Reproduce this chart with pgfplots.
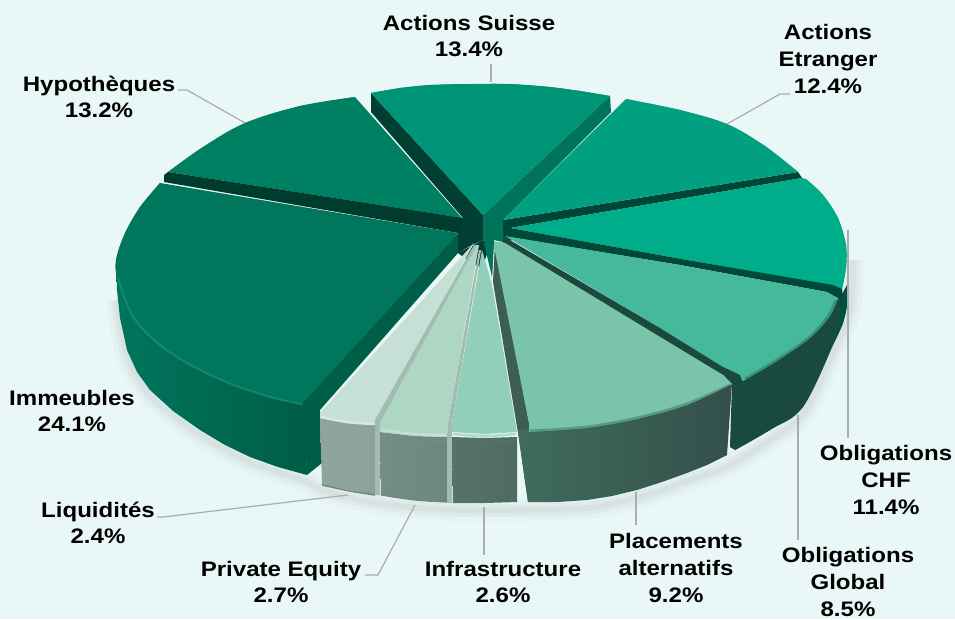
\documentclass[border=0pt]{standalone}
\usepackage{fontspec}
\setmainfont{Liberation Sans}
\usepackage{pgfplots}
\pgfplotsset{compat=1.18}
\definecolor{bg}{HTML}{E9F8F6}
\definecolor{lead}{HTML}{A9ADAD}
\definecolor{cSu}{HTML}{009477}
\definecolor{cSuR}{HTML}{00745B}
\definecolor{cSuL}{HTML}{003F31}
\definecolor{cEt}{HTML}{00A080}
\definecolor{cEtW}{HTML}{004536}
\definecolor{cCH}{HTML}{00AD8B}
\definecolor{cCHW}{HTML}{004838}
\definecolor{cCHO}{HTML}{00513F}
\definecolor{cGl}{HTML}{46B89C}
\definecolor{cGlW}{HTML}{1A493D}
\definecolor{cPl}{HTML}{7AC4AA}
\definecolor{cPlL}{HTML}{3D5E50}
\definecolor{cIn}{HTML}{91CFB8}
\definecolor{cPE}{HTML}{AED6C5}
\definecolor{cLi}{HTML}{C6E0D5}
\definecolor{cSt}{HTML}{A3BCB2}
\definecolor{cIm}{HTML}{00765C}
\definecolor{cImR}{HTML}{005D48}
\definecolor{cHy}{HTML}{008063}
\definecolor{cHyW}{HTML}{003C2E}
\definecolor{wPlA}{HTML}{3F6C5D}
\definecolor{wPlB}{HTML}{33504A}
\definecolor{wInA}{HTML}{557469}
\definecolor{wInB}{HTML}{4E6B60}
\definecolor{wPEA}{HTML}{738F83}
\definecolor{wPEB}{HTML}{6C887C}
\definecolor{wLiA}{HTML}{8EA59C}
\definecolor{wLiB}{HTML}{8BA299}
\tikzset{lab/.style={font=\fontsize{21}{26.7}\selectfont\bfseries,align=center,text=black,inner sep=0pt}}
\newcommand{\W}[1]{\scalebox{1.145}[1]{#1}}
\pgfplotsset{
 s/.style={smooth,tension=0.6,draw=none,mark=none},
 p/.style={draw=none,mark=none},
 leader/.style={draw=lead,line width=1.2pt,mark=none},
 bev/.style={smooth,tension=0.6,mark=none}
}
\begin{document}
\begin{tikzpicture}
\begin{axis}[scale only axis,width=955pt,height=619pt,xmin=0,xmax=955,ymin=0,ymax=619,y dir=reverse,axis lines=none,clip=true]
% background
\addplot[p,fill=bg] coordinates {(0,0)(955,0)(955,619)(0,619)};
% soft shadow
\addplot[smooth,draw=black!60,opacity=.035,line width=22pt,mark=none] coordinates {(117,300)(127,355)(150,395)(200,435)(250,462)(307,482)(322,490)(375,503)(450,510)(528,510)(587,508)(637,498)(687,481)(730,465)(770,440)(803,415)(832,355)(850,310)(853,260)};
\addplot[smooth,draw=black!60,opacity=.045,line width=13pt,mark=none] coordinates {(117,300)(127,355)(150,395)(200,435)(250,462)(307,482)(322,490)(375,503)(450,510)(528,510)(587,508)(637,498)(687,481)(730,465)(770,440)(803,415)(832,355)(850,310)(853,260)};
\addplot[smooth,draw=black!60,opacity=.06,line width=6pt,mark=none] coordinates {(117,300)(127,355)(150,395)(200,435)(250,462)(307,482)(322,490)(375,503)(450,510)(528,510)(587,508)(637,498)(687,481)(730,465)(770,440)(803,415)(832,355)(850,310)(853,260)};
% dark core behind the apex
\addplot[p,fill=cSuL] coordinates {(458,253)(483,240)(490,246)(482,268)(470,262)};
\addplot[p,fill=cCHW] coordinates {(503,226)(512,228)(512,240)(503,244)};
% Hypotheques
\addplot[p,fill=cHy] coordinates {(462,218)(355,97)(300,106)(245,123)(203,147)(168,172)};
\addplot[s,fill=cHy] coordinates {(355,97)(300,106)(245,123)(203,147)(168,172)};
\addplot[p,fill=cHyW] coordinates {(463,218)(168,172)(164,175)(164,182)(458,233)(463,232)};
% Actions Suisse walls
\addplot[p,fill=cSuL] coordinates {(371,93)(483,215)(483,240)(470,246)(458,253)(458,233)(463,218)(371,112)};
\addplot[p,fill=cSuR] coordinates {(610,96)(611,112)(503,220)(503,242)(494,240)(492,277)(488,245)(483,240)(483,215)};
% Actions Suisse top
\addplot[p,fill=cSu] coordinates {(483,215)(371,93)(400,88)(430,85)(470,84)(510,84)(550,87)(580,91)(610,96)};
\addplot[s,fill=cSu] coordinates {(371,93)(400,88)(430,85)(470,84)(510,84)(550,87)(580,91)(610,96)};
% Actions Etranger
\addplot[p,fill=cEtW] coordinates {(503,220)(798,172)(802,178)(510,228)(503,228)};
\addplot[p,fill=cEt] coordinates {(503,220)(626,99)(680,110)(727,124)(765,146)(798,172)};
\addplot[s,fill=cEt] coordinates {(626,99)(680,110)(727,124)(765,146)(798,172)};
% Obligations CHF
\addplot[p,fill=cCHO] coordinates {(847,285)(840,298)(840,320)(832,347)(843,323)(848,300)};
\addplot[s,fill=cCHO] coordinates {(832,347)(843,323)(848,300)(848,285)};
\addplot[p,fill=cCH] coordinates {(510,228)(802,178)(806,179)(823,195)(838,218)(846,245)(846,268)(842,289)(833,286)(687,260)};
\addplot[s,fill=cCH] coordinates {(806,179)(823,195)(838,218)(846,245)(846,268)(842,289)};
\addplot[p,fill=cCHW] coordinates {(503,230)(510,228)(687,260)(833,285)(842,289)(843,296)(840,300)(827,292)(680,265)(503,236)};
% Obligations Global
\addplot[p,fill=cGlW] coordinates {(732,384)(743,380)(777,360)(810,337)(830,315)(837,298)(840,298)(840,320)(832,347)(803,407)(770,430)(735,450)(730,447)};
\addplot[s,fill=cGlW] coordinates {(832,347)(803,407)(770,430)(735,450)};
\addplot[p,fill=cGl] coordinates {(505,236)(680,265)(827,292)(838,298)(830,316)(810,338)(777,361)(743,381)(723,367)(660,328)};
\addplot[s,fill=cGl] coordinates {(743,381)(777,361)(810,338)(830,316)(838,298)};
\addplot[bev,draw=cGlW,opacity=.35,line width=3pt] coordinates {(745,379)(777,360)(810,337)(829,315)(836,300)};
\addplot[p,fill=cGlW] coordinates {(503,236)(660,328)(723,367)(740,375)(743,383)(732,385)(723,375)(660,338)(503,243)};
% Placements alternatifs
\addplot[p,fill=cPlL] coordinates {(493,282)(495,242)(529,423)(529,502)(528,502)(518,433)};
\addplot[p,left color=wPlA,right color=wPlB] coordinates {(518,430)(587,426)(637,416)(687,401)(732,383)(727,455)(707,465)(687,473)(662,482)(637,490)(612,496)(587,500)(558,502)(528,502)};
\addplot[p,fill=cPl] coordinates {(493,241)(505,243)(723,375)(732,384)(687,405)(637,419)(587,428)(529,432)(529,423)};
\addplot[s,fill=cPl] coordinates {(732,384)(687,405)(637,419)(587,428)(529,432)};
\addplot[bev,draw=cGlW,opacity=.35,line width=3pt] coordinates {(530,431)(587,427)(637,418)(687,404)(730,385)};
% Immeubles
\addplot[p,left color=cIm!70!cSuR,right color=cImR] coordinates {(116,260)(117,290)(120,318)(127,350)(137,372)(150,390)(173,411)(200,430)(225,445)(250,457)(278,467)(307,475)(305,400)(267,390)(217,370)(167,345)(133,310)(118,270)};
\addplot[p,fill=cImR] coordinates {(303,402)(458,233)(458,253)(320,410)(322,463)(307,475)};
\addplot[p,fill=cIm] coordinates {(458,233)(160,183)(140,207)(125,233)(116,260)(118,280)(133,317)(167,350)(217,377)(267,395)(303,403)};
\addplot[s,fill=cIm] coordinates {(160,183)(140,207)(125,233)(116,260)(118,280)(133,317)(167,350)(217,377)(267,395)(303,403)};
\addplot[bev,draw=cHy!90!white,opacity=.8,line width=2pt] coordinates {(118,278)(134,318)(168,351)(217,378)(267,396)(302,404)};
% Liquidites
\addplot[p,left color=wLiA,right color=wLiB] coordinates {(320,418)(347,423)(375,425)(375,495)(350,490)(322,485)};
\addplot[bev,draw=black!30!cSt,line width=1.5pt] coordinates {(322,485)(350,491)(375,495)};
\addplot[p,fill=cLi] coordinates {(474,243)(320,413)(320,418)(347,423)(375,424)(473,245)};
% stripe Liq/PE
\addplot[p,fill=cSt] coordinates {(474,245)(375,420)(375,495)(380,495)(380,423)(477,245)};
% Private Equity
\addplot[p,left color=wPEA,right color=wPEB] coordinates {(380,432)(415,436)(447,437)(447,502)(415,500)(381,495)};
\addplot[bev,draw=black!30!cSt,line width=1.2pt] coordinates {(381,495)(415,500)(447,502)};
\addplot[p,fill=cPE] coordinates {(477,245)(380,423)(380,432)(415,436)(447,437)(448,423)(479,245)};
% stripe PE/Infra
\addplot[p,fill=cSt] coordinates {(479,250)(448,423)(447,437)(447,503)(452,503)(452,423)(481,250)};
% Infrastructure
\addplot[p,left color=wInA,right color=wInB] coordinates {(452,437)(485,438)(517,437)(517,502)(485,503)(453,503)};
\addplot[p,fill=cIn] coordinates {(482,250)(452,423)(452,432)(485,434)(517,432)(493,290)(490,277)};
% central spike over the pale tips
\addplot[p,fill=cSuR] coordinates {(484,243)(494,240)(492,277)};
% bevel highlights on the three pale slices
\addplot[bev,draw=wLiA,opacity=.55,line width=4pt] coordinates {(321,423)(347,428)(374,430)};
\addplot[bev,draw=wPEA,opacity=.55,line width=4pt] coordinates {(381,437)(415,441)(446,442)};
\addplot[bev,draw=wInA,opacity=.55,line width=4pt] coordinates {(453,441)(485,443)(516,441)};
\addplot[bev,draw=cLi!70!white,line width=2.5pt] coordinates {(321,417)(347,422)(374,424)};
\addplot[bev,draw=cPE!75!white,line width=2.5pt] coordinates {(381,430)(415,434)(446,435)};
\addplot[bev,draw=cIn!75!white,line width=2.5pt] coordinates {(453,434)(485,436)(516,434)};
% leaders
\addplot[leader] coordinates {(178,90)(187,90)(245,123)};
\addplot[leader] coordinates {(491,64)(491,82)};
\addplot[leader] coordinates {(790,94)(780,94)(727,124)};
\addplot[leader] coordinates {(848,230)(848,438)};
\addplot[leader] coordinates {(798,415)(798,540)};
\addplot[leader] coordinates {(636,492)(636,525)};
\addplot[leader] coordinates {(484,507)(484,555)};
\addplot[leader] coordinates {(415,505)(378,575)(365,575)};
\addplot[leader] coordinates {(348,495)(163,517)(157,517)};
% labels
\node[lab] at (axis cs:469,36) {\W{Actions Suisse}\\\W{13.4\%}};
\node[lab] at (axis cs:828,59) {\W{Actions}\\\W{Etranger}\\\W{12.4\%}};
\node[lab] at (axis cs:99,97) {\W{Hypothèques}\\\W{13.2\%}};
\node[lab] at (axis cs:72,411) {\W{Immeubles}\\\W{24.1\%}};
\node[lab] at (axis cs:98,523) {\W{Liquidités}\\\W{2.4\%}};
\node[lab] at (axis cs:281,582) {\W{Private Equity}\\\W{2.7\%}};
\node[lab] at (axis cs:503,582) {\W{Infrastructure}\\\W{2.6\%}};
\node[lab] at (axis cs:676,568) {\W{Placements}\\\W{alternatifs}\\\W{9.2\%}};
\node[lab] at (axis cs:848,582) {\W{Obligations}\\\W{Global}\\\W{8.5\%}};
\node[lab] at (axis cs:886,480) {\W{Obligations}\\\W{CHF}\\\W{11.4\%}};
\end{axis}
\end{tikzpicture}
\end{document}
